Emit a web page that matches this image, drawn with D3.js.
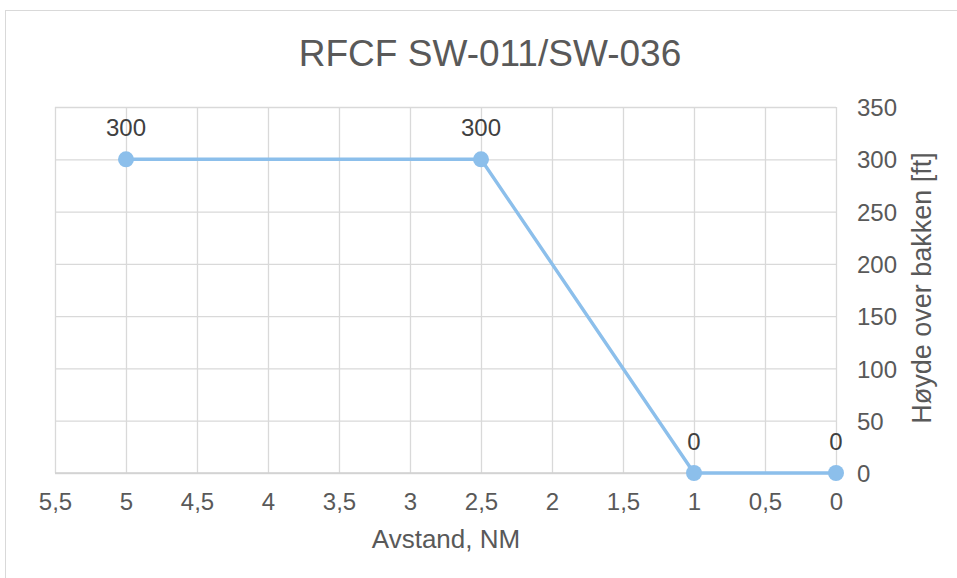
<!DOCTYPE html>
<html><head><meta charset="utf-8">
<script src="https://cdn.jsdelivr.net/npm/d3@7"></script>
<style>body{margin:0;background:#fff;} svg{display:block;font-family:"Liberation Sans",Arial,sans-serif;}</style>
</head><body>
<svg id="c" width="957" height="578"></svg>
<script>
const title = "RFCF SW-011/SW-036";
const xLabel = "Avstand, NM";
const yLabel = "Høyde over bakken [ft]";
const distances = [5, 2.5, 1, 0];
const heights = [300, 300, 0, 0];
const xTicks = [5.5, 5, 4.5, 4, 3.5, 3, 2.5, 2, 1.5, 1, 0.5, 0];
const yTicks = [0, 50, 100, 150, 200, 250, 300, 350];

const svg = d3.select("#c");
const W = 957, H = 578;
const m = {left: 55, right: 836, top: 107, bottom: 473};
const x = d3.scaleLinear().domain([5.5, 0]).range([m.left, m.right]);
const y = d3.scaleLinear().domain([0, 350]).range([m.bottom, m.top]);
const fmt = v => String(v).replace(".", ",");
const grid = "#d9d9d9", txt = "#595959";
const ff = "Liberation Sans, Arial, sans-serif";

svg.append("rect").attr("x", 5.5).attr("y", 10.5).attr("width", W).attr("height", H)
  .attr("fill", "#fff").attr("stroke", "#d9d9d9");

svg.append("text").attr("x", 490).attr("y", 66).attr("text-anchor", "middle")
  .attr("font-size", 37).attr("fill", txt).text(title);

// gridlines + y axis on right
const gy = svg.append("g").attr("transform", `translate(${m.right},0)`)
  .call(d3.axisRight(y).tickValues(yTicks).tickSize(-(m.right - m.left)).tickFormat(fmt));
gy.select(".domain").remove();
gy.selectAll(".tick line").attr("stroke", grid).attr("stroke-width", 1.3);
gy.selectAll(".tick text").attr("fill", txt).attr("font-size", 24).attr("x", 21)
  .attr("dy", "0.36em").attr("text-anchor", "start").attr("font-family", ff);

const gx = svg.append("g").attr("transform", `translate(0,${m.bottom})`)
  .call(d3.axisBottom(x).tickValues(xTicks).tickSize(-(m.bottom - m.top)).tickFormat(fmt));
gx.select(".domain").remove();
gx.selectAll(".tick line").attr("stroke", grid).attr("stroke-width", 1.3);
gx.selectAll(".tick text").attr("fill", txt).attr("font-size", 24).attr("y", 37).attr("dy", 0)
  .attr("font-family", ff);

svg.append("line").attr("x1", m.left).attr("x2", m.right).attr("y1", m.bottom).attr("y2", m.bottom)
  .attr("stroke", "#d0d0d0").attr("stroke-width", 1.5);

svg.append("text").attr("x", 446).attr("y", 548).attr("text-anchor", "middle")
  .attr("font-size", 26).attr("fill", txt).text(xLabel);
svg.append("text").attr("transform", `translate(931,288) rotate(-90)`).attr("text-anchor", "middle")
  .attr("font-size", 27).attr("fill", txt).text(yLabel);

const pts = distances.map((d, i) => ({d, h: heights[i]}));
const color = "#8cbfeb";
svg.append("path").datum(pts)
  .attr("d", d3.line().x(p => x(p.d)).y(p => y(p.h)))
  .attr("fill", "none").attr("stroke", color).attr("stroke-width", 3.4);
svg.selectAll("circle.pt").data(pts).join("circle")
  .attr("cx", p => x(p.d)).attr("cy", p => y(p.h)).attr("r", 8).attr("fill", color);
svg.selectAll("text.lbl").data(pts).join("text")
  .attr("x", p => x(p.d)).attr("y", p => y(p.h) - 23).attr("text-anchor", "middle")
  .attr("font-size", 24).attr("fill", "#404040").text(p => p.h);
</script>
</body></html>
